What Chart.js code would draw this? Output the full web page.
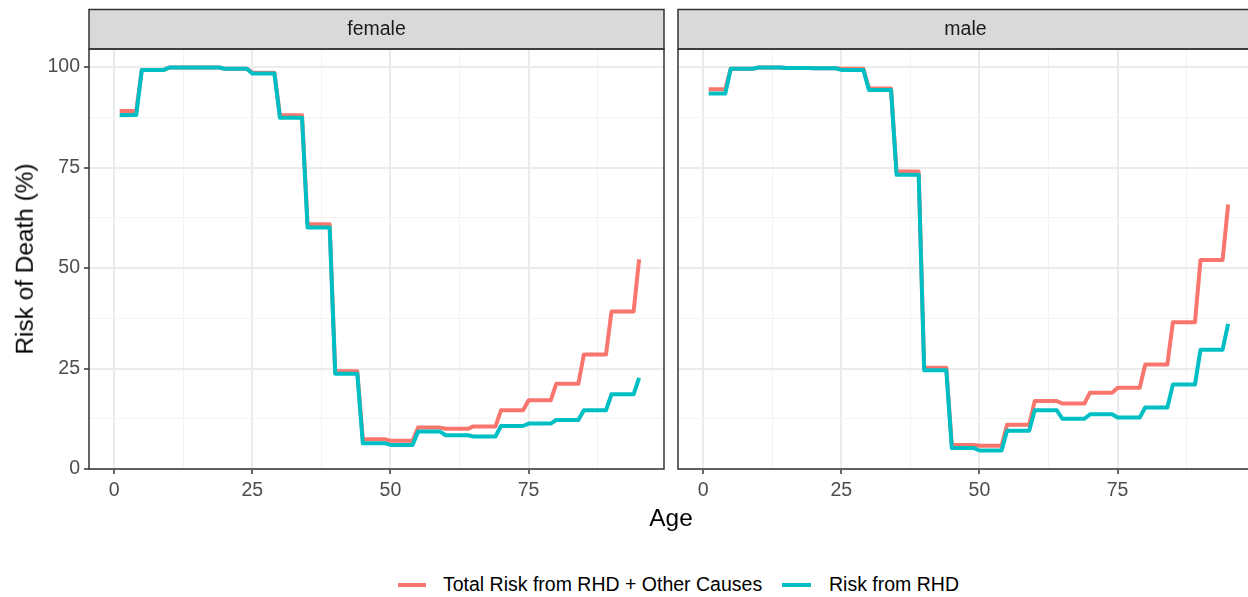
<!DOCTYPE html>
<html><head><meta charset="utf-8">
<script src="https://cdn.jsdelivr.net/npm/chart.js@4.4.1/dist/chart.umd.min.js"></script>
<style>
html,body{margin:0;padding:0;background:#fff;overflow:hidden;}
body{width:1248px;height:597px;position:relative;font-family:"Liberation Sans",Arial,sans-serif;}
canvas{position:absolute;top:0;}
.t{position:absolute;white-space:nowrap;line-height:1;}
.strip{display:flex;align-items:center;justify-content:center;font-size:19.5px;color:#1a1a1a;}
.key{position:absolute;height:4px;}
</style></head><body>
<canvas id="cF" width="668" height="520" style="left:0;width:668px;height:520px"></canvas>
<canvas id="cM" width="585" height="520" style="left:670px;width:585px;height:520px"></canvas>
<div class="t strip" style="left:89px;width:575px;top:9px;height:39px;">female</div>
<div class="t strip" style="left:678px;width:575px;top:9px;height:39px;">male</div>
<div class="t" style="left:25px;top:259px;font-size:24.4px;color:#000;transform:translate(-50%,-50%) rotate(-90deg);">Risk of Death (%)</div>
<div class="t" style="left:671px;top:518px;font-size:24.4px;color:#000;transform:translate(-50%,-50%);">Age</div>
<div class="key" style="left:398px;top:583px;width:28px;background:#F8766D;"></div>
<div class="t" style="left:443px;top:585px;font-size:19.5px;color:#000;transform:translateY(-50%);">Total Risk from RHD + Other Causes</div>
<div class="key" style="left:782px;top:583px;width:29px;background:#00BFC4;"></div>
<div class="t" style="left:829px;top:585px;font-size:19.5px;color:#000;transform:translateY(-50%);">Risk from RHD</div>
<script>
// Age groups (start and end age of each group)
const groupStart = [1, 5, 10, 15, 20, 25, 30, 35, 40, 45, 50, 55, 60, 65, 70, 75, 80, 85, 90, 95];
const groupEnd   = [4, 9, 14, 19, 24, 29, 34, 39, 44, 49, 54, 59, 64, 69, 74, 79, 84, 89, 94, 95];

// Female risk of death (%)
const femaleTotal = [89.1, 99.3, 99.9, 99.9, 99.6, 98.6, 88.0, 60.9, 24.3, 7.4, 7.0, 10.3, 10.0, 10.6, 14.6, 17.1, 21.2, 28.5, 39.2, 52.2];
const femaleRHD   = [88.1, 99.3, 99.9, 99.9, 99.6, 98.4, 87.4, 60.1, 23.7, 6.4, 6.0, 9.3, 8.4, 8.1, 10.7, 11.3, 12.2, 14.6, 18.6, 22.7];

// Male risk of death (%)
const maleTotal = [94.5, 99.6, 99.9, 99.8, 99.7, 99.6, 94.7, 74.0, 25.2, 6.0, 5.8, 11.0, 16.9, 16.3, 19.0, 20.2, 26.0, 36.5, 52.0, 65.8];
const maleRHD   = [93.4, 99.6, 99.9, 99.8, 99.7, 99.3, 94.3, 73.2, 24.6, 5.2, 4.6, 9.5, 14.6, 12.5, 13.6, 12.8, 15.3, 21.0, 29.7, 36.1];

const xTickValues = [0, 12.5, 25, 37.5, 50, 62.5, 75, 87.5];
const yTickValues = [0, 12.5, 25, 37.5, 50, 62.5, 75, 87.5, 100];
const seriesLabels = ['Total Risk from RHD + Other Causes', 'Risk from RHD'];
const RED = '#F8766D', CYAN = '#00BFC4';
const FONT = '"Liberation Sans", Arial, sans-serif';

function toPoints(vals) {
  const pts = [];
  vals.forEach((v, i) => {
    pts.push({x: groupStart[i], y: v});
    if (groupEnd[i] !== groupStart[i]) pts.push({x: groupEnd[i], y: v});
  });
  return pts;
}

const panelDecor = {
  id: 'panelDecor',
  afterDraw(chart) {
    const {ctx, chartArea: a} = chart;
    ctx.save();
    ctx.fillStyle = '#d9d9d9';
    ctx.fillRect(a.left, 9.5, a.right - a.left, a.top - 9.5);
    ctx.strokeStyle = '#333333';
    ctx.lineWidth = 1.5;
    ctx.strokeRect(a.left, 9.5, a.right - a.left, a.top - 9.5);
    ctx.strokeRect(a.left, a.top, a.right - a.left, a.bottom - a.top);
    ctx.restore();
  }
};

const isMajor = v => Math.abs(v % 25) < 1e-9;

function makeChart(id, total, rhd, showY, yWidth, padRight) {
  return new Chart(document.getElementById(id), {
    type: 'line',
    data: {
      datasets: [
        {label: seriesLabels[0], data: toPoints(total), borderColor: RED, backgroundColor: RED, order: 2},
        {label: seriesLabels[1], data: toPoints(rhd), borderColor: CYAN, backgroundColor: CYAN, order: 1}
      ]
    },
    options: {
      responsive: false, animation: false, devicePixelRatio: 1,
      layout: {padding: {top: 49, right: padRight, left: 0, bottom: 0}},
      elements: {
        line: {borderWidth: 4, tension: 0, borderCapStyle: 'butt', borderJoinStyle: 'round', fill: false},
        point: {radius: 0, hoverRadius: 0}
      },
      plugins: {legend: {display: false}, tooltip: {enabled: false}},
      scales: {
        x: {
          type: 'linear', min: -4.55, max: 99.5,
          afterBuildTicks: s => { s.ticks = xTickValues.map(v => ({value: v})); },
          afterFit: s => { s.height = 51; },
          ticks: {autoSkip: false, maxRotation: 0, color: '#4d4d4d', font: {family: FONT, size: 19.5}, padding: 5,
                  callback: v => isMajor(v) ? String(v) : ''},
          grid: {
            color: c => isMajor(c.tick.value) ? '#ebebeb' : '#f3f3f3',
            lineWidth: c => isMajor(c.tick.value) ? 2 : 1,
            tickLength: 5, tickWidth: 1.5,
            tickColor: c => isMajor(c.tick.value) ? '#333333' : 'rgba(0,0,0,0)'
          },
          border: {display: false}
        },
        y: {
          type: 'linear', min: 0, max: 104.5,
          afterBuildTicks: s => { s.ticks = yTickValues.map(v => ({value: v})); },
          afterFit: s => { s.width = yWidth; },
          ticks: {display: showY, autoSkip: false, color: '#4d4d4d', font: {family: FONT, size: 19.5}, padding: 4,
                  callback: v => isMajor(v) ? String(v) : ''},
          grid: {
            color: c => isMajor(c.tick.value) ? '#ebebeb' : '#f3f3f3',
            lineWidth: c => isMajor(c.tick.value) ? 2 : 1,
            drawTicks: showY, tickLength: 5, tickWidth: 1.5,
            tickColor: c => isMajor(c.tick.value) ? '#333333' : 'rgba(0,0,0,0)'
          },
          border: {display: false}
        }
      }
    },
    plugins: [panelDecor]
  });
}

makeChart('cF', femaleTotal, femaleRHD, true, 89, 4);
makeChart('cM', maleTotal, maleRHD, false, 8, 2);
</script>
</body></html>
